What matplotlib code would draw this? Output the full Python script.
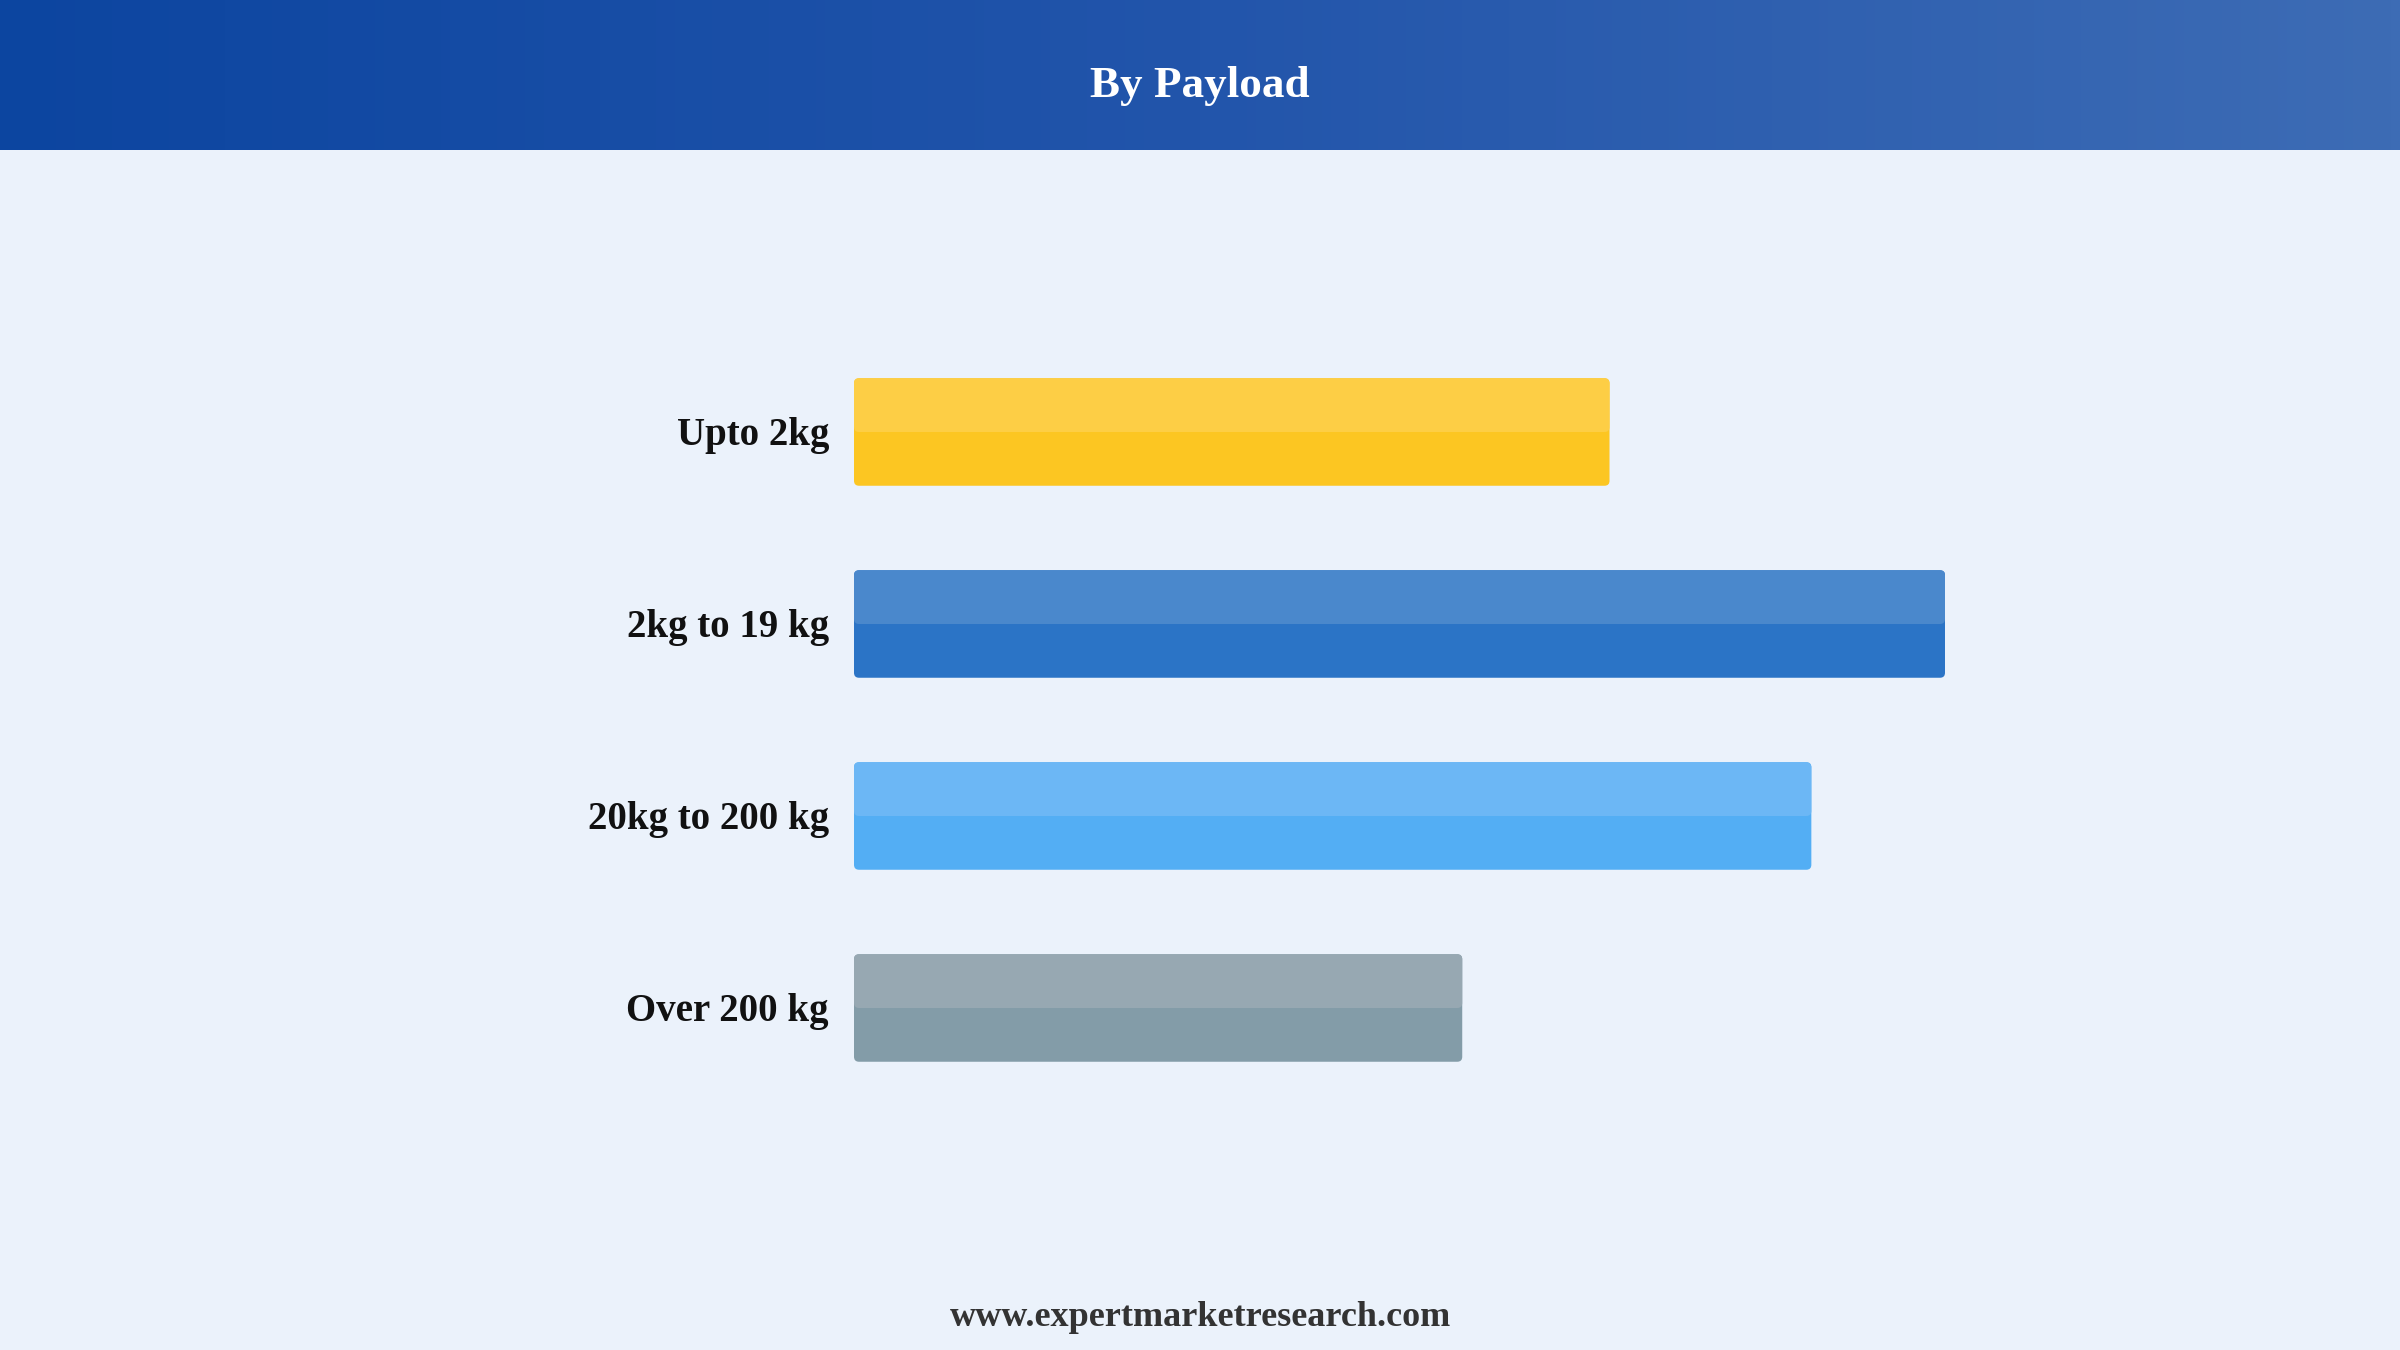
import numpy as np
import matplotlib
matplotlib.use("Agg")
import matplotlib.pyplot as plt
from matplotlib.patches import FancyBboxPatch
from matplotlib.colors import LinearSegmentedColormap
from matplotlib.transforms import ScaledTranslation

# ---- data ----
categories = ["Upto 2kg", "2kg to 19 kg", "20kg to 200 kg", "Over 200 kg"]
values = [27.7, 40.0, 35.1, 22.3]
bottom_colors = ["#FCC622", "#2B74C6", "#53AEF4", "#839CA8"]
top_colors = ["#FDCE45", "#4A88CC", "#6CB7F5", "#97A8B2"]
title = "By Payload"
footer = "www.expertmarketresearch.com"

W, H, DPI = 2400, 1350, 100
BG = "#EBF2FB"
SERIF = ["Liberation Serif", "DejaVu Serif"]

fig = plt.figure(figsize=(W / DPI, H / DPI), dpi=DPI, facecolor=BG)

# ---- header band with gradient ----
hdr_h = 150 / H
hax = fig.add_axes([0, 1 - hdr_h, 1, hdr_h])
cmap = LinearSegmentedColormap.from_list("hdr", ["#0C45A0", "#2255AB", "#3D6CB5"])
grad = np.linspace(0, 1, 512).reshape(1, -1)
hax.imshow(grad, aspect="auto", cmap=cmap, extent=[0, 1, 0, 1])
hax.set_axis_off()
fig.text(0.5, 1 - 97.5 / H, title, ha="center", va="baseline", color="white",
         fontsize=32.5, fontweight="bold", family=SERIF)

# ---- bars ----
ax_left = 854 / W
ax_w = 1091 / W
ax_bottom = 1 - 1104 / H
ax_h = 768 / H
ax = fig.add_axes([ax_left, ax_bottom, ax_w, ax_h])
ax.set_facecolor("none")
ypos = np.arange(len(categories))
bh = 107.5 / 192
bars = ax.barh(ypos, values, height=bh, color="none", edgecolor="none")
ax.set_xlim(0, 40)
ax.set_ylim(len(categories) - 0.5, -0.5)

# aspect handling for rounded corners
x_per_px = 40 / 1091
y_per_px = 1 / 192
r = 5 * x_per_px
asp = y_per_px / x_per_px
for b, cb, ct in zip(bars, bottom_colors, top_colors):
    x0, y0, w, h = b.get_x(), b.get_y(), b.get_width(), b.get_height()
    ax.add_patch(FancyBboxPatch((x0, y0), w, h,
                                boxstyle=f"round,pad=0,rounding_size={r}",
                                mutation_aspect=asp, facecolor=cb, edgecolor="none"))
    ax.add_patch(FancyBboxPatch((x0, y0), w, h / 2,
                                boxstyle=f"round,pad=0,rounding_size={r}",
                                mutation_aspect=asp, facecolor=ct, edgecolor="none"))

ax.set_yticks(ypos)
ax.set_yticklabels(categories, fontsize=28, fontweight="bold", family=SERIF, color="#111111")
ax.tick_params(axis="y", length=0, pad=18)
shift = ScaledTranslation(0, 1.5 / DPI, fig.dpi_scale_trans)
for lbl in ax.get_yticklabels():
    lbl.set_transform(lbl.get_transform() + shift)
ax.set_xticks([])
for s in ax.spines.values():
    s.set_visible(False)

fig.text(0.5, 1 - 1326 / H, footer, ha="center", va="baseline", color="#333333",
         fontsize=26, fontweight="bold", family=SERIF)

fig.savefig("out.png", dpi=DPI, facecolor=BG)
